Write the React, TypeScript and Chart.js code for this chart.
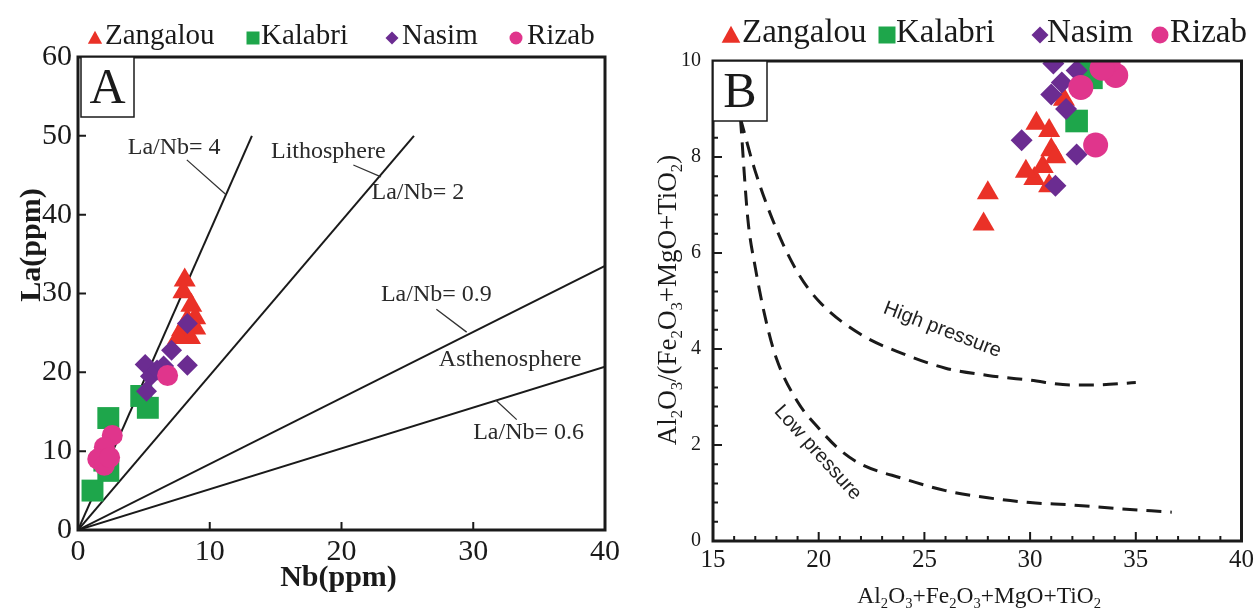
import React, { useEffect, useRef } from "react";
import { Chart, registerables } from "chart.js";
Chart.register(...registerables);

const SERIF = "'Liberation Serif', 'Times New Roman', Times, serif";
const SANS = "'Liberation Sans', Arial, sans-serif";
const INK = "#1a1a1a";

const seriesNames = ["Zangalou", "Kalabri", "Nasim", "Rizab"];
const seriesColors = ["#ea3127", "#1ea64b", "#6b2c91", "#e0358c"];
const seriesShapes = ["triangle", "rect", "rectRot", "circle"];

// ---------- Panel A : La (ppm) vs Nb (ppm) ----------
const zangalouNb = [8.1, 8.0, 8.6, 8.9, 8.3, 8.9, 7.9, 8.5, 7.6];
const zangalouLa = [31.7, 30.2, 28.5, 26.9, 26.6, 25.6, 25.4, 24.4, 24.4];
const kalabriNb = [2.3, 4.8, 5.3, 1.1, 2.3, 2.0];
const kalabriLa = [14.2, 17.0, 15.5, 5.0, 7.5, 8.8];
const nasimNb = [8.3, 7.1, 8.3, 5.1, 5.5, 6.0, 5.2, 6.5];
const nasimLa = [26.2, 22.8, 20.9, 21.0, 19.5, 20.3, 17.6, 20.8];
const rizabNb = [6.8, 2.6, 2.0, 1.5, 2.0, 2.4];
const rizabLa = [19.6, 12.0, 10.5, 9.0, 8.2, 9.2];

// reference ratio lines from the origin (end points)
const ratioLineEndNb = [13.2, 25.5, 40, 40];
const ratioLineEndLa = [50, 50, 33.5, 20.7];

const nbTicks = [0, 10, 20, 30, 40];
const laTicks = [0, 10, 20, 30, 40, 50, 60];

// annotation texts (data units)
const annTextA = ["La/Nb= 4", "Lithosphere", "La/Nb= 2", "La/Nb= 0.9", "Asthenosphere", "La/Nb= 0.6"];
const annNbA = [7.3, 19.0, 25.8, 27.2, 32.8, 34.2];
const annLaA = [48.5, 48.0, 42.8, 29.8, 21.6, 12.3];
// leader lines [startNb, startLa, endNb, endLa]
const leaderA = [
  [8.26, 46.95, 11.2, 42.6],
  [20.9, 46.3, 23.0, 44.8],
  [27.2, 28.0, 29.5, 25.1],
  [31.7, 16.5, 33.3, 14.0],
];

// ---------- Panel B : Al2O3/(Fe2O3+MgO+TiO2) vs sum ----------
const zangalouSum = [27.8, 28.0, 30.3, 30.9, 31.0, 30.2, 30.6, 31.2, 30.9, 29.8, 31.6];
const zangalouRatio = [6.6, 7.25, 8.7, 8.55, 8.15, 7.55, 7.8, 8.0, 7.4, 7.7, 9.2];
const kalabriSum = [32.2, 32.9, 32.8];
const kalabriRatio = [8.75, 9.65, 10.0];
const nasimSum = [29.6, 32.2, 31.2, 31.7, 31.0, 31.5, 31.1, 32.2];
const nasimRatio = [8.35, 8.05, 7.4, 9.0, 9.3, 9.55, 9.95, 9.8];
const rizabSum = [33.1, 32.4, 34.05, 33.7, 33.4];
const rizabRatio = [8.25, 9.45, 9.7, 10.0, 9.85];

const highPressureSum = [16.3, 17.0, 18.0, 19.0, 20.0, 22.0, 24.0, 26.0, 28.0, 30.0, 32.0, 33.0, 35.0];
const highPressureRatio = [8.8, 7.7, 6.5, 5.6, 5.0, 4.3, 3.9, 3.6, 3.45, 3.35, 3.25, 3.25, 3.3];
const lowPressureSum = [16.3, 16.65, 17.0, 17.5, 18.0, 19.0, 20.0, 21.0, 22.0, 24.0, 26.0, 28.0, 30.0, 32.0, 34.0, 36.7];
const lowPressureRatio = [8.8, 6.7, 5.7, 4.6, 3.8, 2.9, 2.35, 1.9, 1.6, 1.3, 1.05, 0.9, 0.8, 0.75, 0.68, 0.6];

const sumTicks = [15, 20, 25, 30, 35, 40];
const ratioTicks = [0, 2, 4, 6, 8, 10];

const curveLabels = ["High pressure", "Low pressure"];
const curveLabelSum = [25.85, 19.95];
const curveLabelRatio = [4.4, 1.84];
const curveLabelAngle = [21, 48];

// ---------- helpers ----------
function pts(xs: number[], ys: number[]) {
  return xs.map((x, i) => ({ x, y: ys[i] }));
}

function drawShape(ctx: CanvasRenderingContext2D, shape: string, x: number, y: number, s: number, color: string) {
  ctx.save();
  ctx.fillStyle = color;
  ctx.beginPath();
  if (shape === "triangle") {
    ctx.moveTo(x, y - s * 0.55);
    ctx.lineTo(x + s * 0.55, y + s * 0.45);
    ctx.lineTo(x - s * 0.55, y + s * 0.45);
  } else if (shape === "rect") {
    ctx.rect(x - s / 2, y - s / 2, s, s);
  } else if (shape === "rectRot") {
    ctx.moveTo(x, y - s / 2);
    ctx.lineTo(x + s / 2, y);
    ctx.lineTo(x, y + s / 2);
    ctx.lineTo(x - s / 2, y);
  } else {
    ctx.arc(x, y, s / 2, 0, Math.PI * 2);
  }
  ctx.closePath();
  ctx.fill();
  ctx.restore();
}

function drawLegend(ctx: CanvasRenderingContext2D, cy: number, markerX: number[], textX: number[], font: number, msize: number) {
  ctx.save();
  ctx.font = `${font}px ${SERIF}`;
  ctx.fillStyle = INK;
  ctx.textBaseline = "middle";
  ctx.textAlign = "left";
  seriesNames.forEach((n, i) => {
    drawShape(ctx, seriesShapes[i], markerX[i], cy + 2, msize, seriesColors[i]);
    ctx.fillText(n, textX[i], cy);
  });
  ctx.restore();
}

function drawFrameAndTicks(chart: any, majorLen: number, minorLen: number, xMinor: number, yMinor: number) {
  const { ctx, chartArea: ca } = chart;
  const xs = chart.scales.x;
  const ys = chart.scales.y;
  ctx.save();
  ctx.strokeStyle = INK;
  ctx.lineWidth = 2;
  ctx.beginPath();
  xs.ticks.forEach((t: any) => {
    const px = xs.getPixelForValue(t.value);
    ctx.moveTo(px, ca.bottom);
    ctx.lineTo(px, ca.bottom - majorLen);
  });
  ys.ticks.forEach((t: any) => {
    const py = ys.getPixelForValue(t.value);
    ctx.moveTo(ca.left, py);
    ctx.lineTo(ca.left + majorLen, py);
  });
  if (xMinor > 0) {
    for (let v = xs.min; v <= xs.max + 1e-9; v += xMinor) {
      const px = xs.getPixelForValue(v);
      ctx.moveTo(px, ca.bottom);
      ctx.lineTo(px, ca.bottom - minorLen);
    }
  }
  if (yMinor > 0) {
    for (let v = ys.min; v <= ys.max + 1e-9; v += yMinor) {
      const py = ys.getPixelForValue(v);
      ctx.moveTo(ca.left, py);
      ctx.lineTo(ca.left + minorLen, py);
    }
  }
  ctx.stroke();
  ctx.lineWidth = 3;
  ctx.strokeRect(ca.left, ca.top, ca.right - ca.left, ca.bottom - ca.top);
  ctx.restore();
}

function drawLetterBox(ctx: CanvasRenderingContext2D, left: number, top: number, w: number, h: number, letter: string, size: number) {
  ctx.save();
  ctx.fillStyle = "#fff";
  ctx.fillRect(left, top, w, h);
  ctx.strokeStyle = INK;
  ctx.lineWidth = 1.5;
  ctx.strokeRect(left, top, w, h);
  ctx.fillStyle = INK;
  ctx.font = `${size}px ${SERIF}`;
  ctx.textAlign = "center";
  ctx.textBaseline = "middle";
  ctx.fillText(letter, left + w / 2, top + h / 2 + 3);
  ctx.restore();
}

function drawFormula(ctx: CanvasRenderingContext2D, text: string, cx: number, cy: number, size: number, angle: number) {
  const parts: { s: string; sub: boolean }[] = [];
  for (const ch of text) {
    const sub = /[0-9]/.test(ch);
    const last = parts[parts.length - 1];
    if (last && last.sub === sub) last.s += ch;
    else parts.push({ s: ch, sub });
  }
  ctx.save();
  ctx.translate(cx, cy);
  ctx.rotate(angle);
  ctx.fillStyle = INK;
  ctx.textAlign = "left";
  ctx.textBaseline = "alphabetic";
  let w = 0;
  parts.forEach((p) => {
    ctx.font = `${p.sub ? size * 0.62 : size}px ${SERIF}`;
    w += ctx.measureText(p.s).width;
  });
  let x = -w / 2;
  parts.forEach((p) => {
    ctx.font = `${p.sub ? size * 0.62 : size}px ${SERIF}`;
    ctx.fillText(p.s, x, size * 0.33 + (p.sub ? size * 0.22 : 0));
    x += ctx.measureText(p.s).width;
  });
  ctx.restore();
}

// ---------- Panel A plugin ----------
const panelAPlugin = {
  id: "panelA",
  afterDatasetsDraw(chart: any) {
    const { ctx, chartArea: ca } = chart;
    const xs = chart.scales.x;
    const ys = chart.scales.y;
    drawFrameAndTicks(chart, 8, 0, 0, 0);
    drawLetterBox(ctx, ca.left + 3, ca.top, 53, 60, "A", 50);
    ctx.save();
    ctx.strokeStyle = "#333";
    ctx.lineWidth = 1.3;
    ctx.beginPath();
    leaderA.forEach((l) => {
      ctx.moveTo(xs.getPixelForValue(l[0]), ys.getPixelForValue(l[1]));
      ctx.lineTo(xs.getPixelForValue(l[2]), ys.getPixelForValue(l[3]));
    });
    ctx.stroke();
    ctx.fillStyle = "#2a2a2a";
    ctx.font = `24px ${SERIF}`;
    ctx.textAlign = "center";
    ctx.textBaseline = "middle";
    annTextA.forEach((t, i) => {
      ctx.fillText(t, xs.getPixelForValue(annNbA[i]), ys.getPixelForValue(annLaA[i]));
    });
    ctx.fillStyle = INK;
    ctx.font = `bold 30px ${SERIF}`;
    ctx.fillText("Nb(ppm)", (ca.left + ca.right) / 2 - 3, 578);
    ctx.translate(32, 245);
    ctx.rotate(-Math.PI / 2);
    ctx.fillText("La(ppm)", 0, 0);
    ctx.restore();
    drawLegend(ctx, 36, [95, 253, 392, 516], [105, 261, 402, 527], 29, 13);
  },
};

// ---------- Panel B plugin ----------
const panelBPlugin = {
  id: "panelB",
  afterDatasetsDraw(chart: any) {
    const { ctx, chartArea: ca } = chart;
    const xs = chart.scales.x;
    const ys = chart.scales.y;
    drawFrameAndTicks(chart, 9, 5, 1, 0.4);
    drawLetterBox(ctx, ca.left, ca.top, 54, 60, "B", 50);
    ctx.save();
    ctx.fillStyle = "#222";
    ctx.font = `20px ${SANS}`;
    ctx.textAlign = "center";
    ctx.textBaseline = "middle";
    curveLabels.forEach((t, i) => {
      ctx.save();
      ctx.translate(xs.getPixelForValue(curveLabelSum[i]), ys.getPixelForValue(curveLabelRatio[i]));
      ctx.rotate((curveLabelAngle[i] * Math.PI) / 180);
      ctx.fillText(t, 0, 0);
      ctx.restore();
    });
    ctx.restore();
    drawFormula(ctx, "Al2O3+Fe2O3+MgO+TiO2", (ca.left + ca.right) / 2 + 2, 595, 23.5, 0);
    drawFormula(ctx, "Al2O3/(Fe2O3+MgO+TiO2)", 38, 300, 27, -Math.PI / 2);
    drawLegend(ctx, 33, [102, 258, 411, 531], [113, 267, 418, 541], 33, 17);
  },
};

function scatterSet(i: number, data: any[], radius: number) {
  return {
    type: "scatter",
    label: seriesNames[i],
    data,
    pointStyle: seriesShapes[i],
    pointRadius: radius,
    pointBorderWidth: 0,
    backgroundColor: seriesColors[i],
    borderColor: seriesColors[i],
    order: 4 - i,
    clip: false as any,
  };
}

function axisCommon(min: number, max: number, values: number[], fontSize: number, padding: number, fit: (s: any) => void) {
  return {
    type: "linear",
    min,
    max,
    afterBuildTicks: (s: any) => {
      s.ticks = values.map((v) => ({ value: v }));
    },
    afterFit: fit,
    grid: { display: false, drawTicks: false },
    border: { display: false },
    ticks: { font: { family: SERIF, size: fontSize }, color: INK, padding, autoSkip: false, maxRotation: 0 },
  };
}

export default function App() {
  const refA = useRef<HTMLCanvasElement>(null);
  const refB = useRef<HTMLCanvasElement>(null);

  useEffect(() => {
    const radA = [12.7, 15.5, 10.5, 10.5];
    const chartA = new Chart(refA.current as HTMLCanvasElement, {
      type: "scatter",
      data: {
        datasets: [
          ...ratioLineEndNb.map((nb, i) => ({
            type: "line",
            label: "ratio" + i,
            data: [
              { x: 0, y: 0 },
              { x: nb, y: ratioLineEndLa[i] },
            ],
            borderColor: INK,
            borderWidth: 2,
            pointRadius: 0,
            fill: false,
            order: 10,
          })),
          scatterSet(0, pts(zangalouNb, zangalouLa), radA[0]),
          scatterSet(1, pts(kalabriNb, kalabriLa), radA[1]),
          scatterSet(2, pts(nasimNb, nasimLa), radA[2]),
          scatterSet(3, pts(rizabNb, rizabLa), radA[3]),
        ] as any,
      },
      options: {
        responsive: false,
        animation: false,
        layout: { padding: { left: 8, top: 57, right: 24, bottom: 30 } },
        plugins: { legend: { display: false }, tooltip: { enabled: false } },
        scales: {
          x: axisCommon(0, 40, nbTicks, 30, 4, (s: any) => { s.height = 50; }),
          y: axisCommon(0, 60, laTicks, 30, 6, (s: any) => { s.width = 70; }),
        } as any,
      },
      plugins: [panelAPlugin],
    });

    const radB = [12.7, 16, 11, 12.5];
    const clipTop = { left: false, top: 0, right: false, bottom: false };
    const chartB = new Chart(refB.current as HTMLCanvasElement, {
      type: "scatter",
      data: {
        datasets: [
          {
            type: "line",
            label: "High pressure",
            data: pts(highPressureSum, highPressureRatio),
            borderColor: INK,
            borderWidth: 3,
            borderDash: [15, 9],
            pointRadius: 0,
            cubicInterpolationMode: "monotone",
            fill: false,
            order: 10,
          },
          {
            type: "line",
            label: "Low pressure",
            data: pts(lowPressureSum, lowPressureRatio),
            borderColor: INK,
            borderWidth: 3,
            borderDash: [15, 9],
            pointRadius: 0,
            cubicInterpolationMode: "monotone",
            fill: false,
            order: 10,
          },
          { ...scatterSet(0, pts(zangalouSum, zangalouRatio), radB[0]), clip: clipTop },
          { ...scatterSet(1, pts(kalabriSum, kalabriRatio), radB[1]), clip: clipTop },
          { ...scatterSet(2, pts(nasimSum, nasimRatio), radB[2]), clip: clipTop },
          { ...scatterSet(3, pts(rizabSum, rizabRatio), radB[3]), clip: clipTop },
        ] as any,
      },
      options: {
        responsive: false,
        animation: false,
        layout: { padding: { left: 4, top: 61, right: 15, bottom: 29 } },
        plugins: { legend: { display: false }, tooltip: { enabled: false } },
        scales: {
          x: axisCommon(15, 40, sumTicks, 25, 4, (s: any) => { s.height = 40; }),
          y: axisCommon(0, 10, ratioTicks, 20, 12, (s: any) => { s.width = 80; }),
        } as any,
      },
      plugins: [panelBPlugin],
    });

    return () => {
      chartA.destroy();
      chartB.destroy();
    };
  }, []);

  return (
    <div style={{ position: "fixed", left: 0, top: 0, width: 1258, height: 610, background: "#fff" }}>
      <canvas ref={refA} width={629} height={610} style={{ position: "absolute", left: 0, top: 0 }} />
      <canvas ref={refB} width={629} height={610} style={{ position: "absolute", left: 629, top: 0 }} />
    </div>
  );
}
